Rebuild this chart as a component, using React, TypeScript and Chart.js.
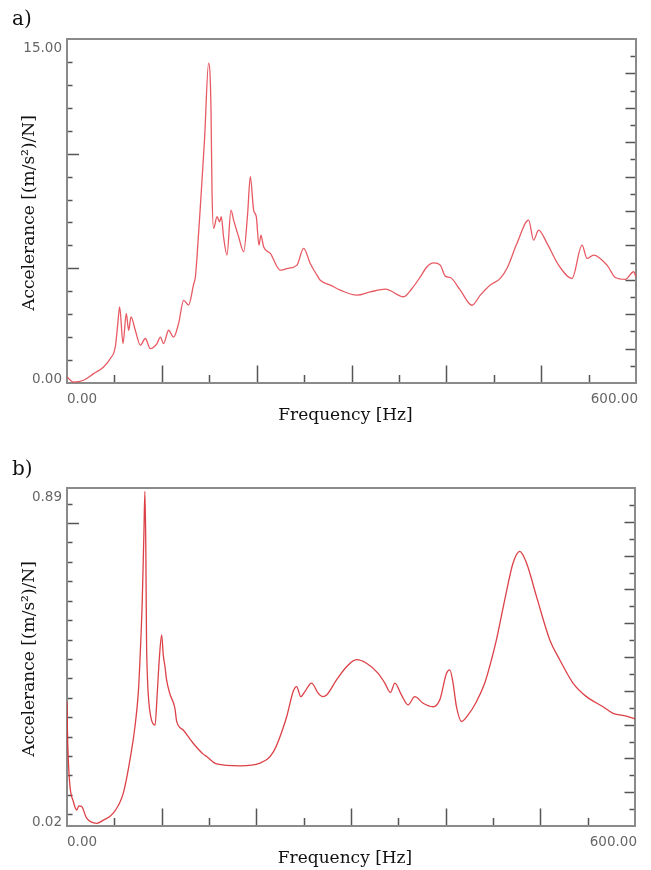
import React, { useEffect, useRef } from "react";
import { Chart, registerables } from "chart.js";

Chart.register(...registerables);

// ---------- Data ----------
const freqA = [
  0, 7.0, 17.5, 28.1, 38.6, 45.7, 50.9, 53.6, 55.5, 59.1, 62.5, 65.0, 67.5, 72.0, 77.3, 82.6, 87.8, 94.9, 98.4,
  101.9, 107.1, 112.4, 117.7, 123.0, 128.2, 133.5, 135.3, 137.1, 140.6, 145.0, 149.3, 151.8, 152.9, 154.6, 158.2,
  160.9, 162.7, 165.1, 168.7, 172.9, 175.7, 181.0, 186.3, 190.5, 193.3, 196.8, 199.6, 202.4, 204.5, 207.3, 214.4,
  224.9, 231.9, 242.5, 249.5, 256.5, 263.6, 267.1, 277.7, 288.2, 305.8, 319.8, 335.7, 355.0, 363.8, 372.6, 379.6,
  386.6, 393.6, 398.9, 404.2, 414.7, 427.1, 435.8, 446.4, 456.9, 464.0, 474.5, 486.8, 492.0, 497.3, 506.2, 518.4,
  532.5, 543.1, 548.4, 555.3, 569.4, 578.2, 588.7, 597.5, 600.0,
];
const accelA = [
  0.26, 0.04, 0.12, 0.41, 0.7, 1.07, 1.57, 2.6, 3.32, 1.72, 3.03, 2.3, 2.88, 2.3, 1.65, 1.94, 1.5, 1.72, 2.0,
  1.72, 2.3, 2.0, 2.6, 3.6, 3.4, 4.3, 4.6, 5.5, 7.69, 10.6, 13.95, 12.05, 8.4, 6.74, 7.25,
  7.03, 7.25, 6.37, 5.58, 7.54, 7.1, 6.37, 5.72, 7.4, 9.0, 7.54, 7.25, 6.01, 6.45, 5.94, 5.65,
  4.92, 4.99, 5.14, 5.87, 5.21, 4.7, 4.48, 4.27, 4.05, 3.83, 3.97, 4.09, 3.76, 4.12, 4.63, 5.07,
  5.24, 5.14, 4.66, 4.6, 4.05, 3.39, 3.83, 4.27, 4.56, 5.0, 6.09, 7.1, 6.23, 6.67, 6.09, 5.14,
  4.56, 6.01, 5.43, 5.58, 5.14, 4.6, 4.52, 4.85, 4.63,
];

const freqB = [
  0, 0.4, 1.4, 3.2, 6.7, 10.2, 12.5, 15.5, 20.8, 31.4, 38.3, 48.9, 59.4, 66.5, 71.8, 75.3, 77.1, 79.5, 81.3, 82.3,
  83.2, 84.0, 85.0, 86.4, 88.2, 90.4, 93.0, 95.3, 97.5, 100.0, 101.7, 103.5, 105.2, 108.7, 114.0, 115.8, 122.8,
  133.3, 143.9, 147.5, 158.0, 182.6, 203.8, 217.8, 231.9, 238.9, 242.5, 247.0, 251.3, 258.3, 265.3, 270.3, 274.2,
  284.7, 295.3, 305.8, 316.4, 328.7, 335.7, 341.7, 346.3, 353.4, 360.3, 367.4, 376.2, 386.7, 393.8, 400.9, 404.4,
  407.8, 411.4, 416.7, 423.7, 432.5, 441.3, 448.4, 453.6, 462.4, 471.2, 478.3, 485.4, 495.9, 510.0, 520.5, 534.5,
  548.7, 566.2, 576.8, 590.9, 600.0,
];
const accelB = [
  0.34, 0.27, 0.19, 0.121, 0.083, 0.061, 0.072, 0.07, 0.04, 0.027, 0.035, 0.053, 0.104, 0.19, 0.276, 0.362, 0.448,
  0.6, 0.78, 0.881, 0.75, 0.5, 0.4, 0.34, 0.305, 0.285, 0.28, 0.36, 0.45, 0.512, 0.46, 0.43, 0.396, 0.36, 0.323,
  0.29, 0.267, 0.233, 0.205, 0.199, 0.18, 0.175, 0.182, 0.21, 0.3, 0.366, 0.379, 0.353, 0.366, 0.388, 0.362, 0.353,
  0.357, 0.396, 0.43, 0.448, 0.439, 0.413, 0.388, 0.364, 0.388, 0.357, 0.332, 0.353, 0.336, 0.327, 0.345, 0.413,
  0.422, 0.388, 0.327, 0.289, 0.306, 0.34, 0.388, 0.448, 0.499, 0.602, 0.697, 0.727, 0.697, 0.611, 0.499, 0.448,
  0.388, 0.353, 0.327, 0.31, 0.303, 0.296,
];

// ---------- Axis ticks / labels ----------
const xMinorTicks = [50, 100, 150, 200, 250, 300, 350, 400, 450, 500, 550];
const xMajorTicks = [100, 200, 300, 400, 500];
const xTickLabels = ["0.00", "600.00"];

const yTicksA = [1, 2, 3, 4, 5, 6, 7, 8, 9, 10, 11, 12, 13, 14];
const yMajorA = [5, 10];
const yLabelsA = ["0.00", "15.00"];

const yTicksB = [0.05, 0.1, 0.15, 0.2, 0.25, 0.3, 0.35, 0.4, 0.45, 0.5, 0.55, 0.6, 0.65, 0.7, 0.75, 0.8, 0.85];
const yMajorB = [0.8];
const yLabelsB = ["0.02", "0.89"];

const rightTicks = [1, 2, 3, 4, 5, 6, 7, 8, 9, 10, 11, 12, 13, 14, 15, 16, 17, 18, 19];

const xTitle = "Frequency [Hz]";
const yTitle = "Accelerance [(m/s\u00B2)/N]";

type PanelCfg = {
  tag: string;
  freq: number[];
  accel: number[];
  yMin: number;
  yMax: number;
  yTicks: number[];
  yMajor: number[];
  yLabels: string[];
  padding: { left: number; top: number; right: number; bottom: number };
  tagBaseline: number;
  color: string;
};

const SERIF = '"DejaVu Serif", serif';
const SANS = '"DejaVu Sans", sans-serif';

function makePlugin(cfg: PanelCfg) {
  return {
    id: "frame" + cfg.tag,
    beforeDatasetsDraw(chart: any) {
      const { ctx, chartArea } = chart;
      const { left, right, top, bottom } = chartArea;
      const xs = chart.scales.x;
      const ys = chart.scales.y;
      const y2 = chart.scales.y2;
      ctx.save();
      ctx.strokeStyle = "#555";
      ctx.lineWidth = 1.5;
      ctx.beginPath();
      xMinorTicks.forEach((v) => {
        const px = Math.round(xs.getPixelForValue(v)) + 0.5;
        const len = xMajorTicks.includes(v) ? 17.5 : 8;
        ctx.moveTo(px, bottom);
        ctx.lineTo(px, bottom - len);
      });
      cfg.yTicks.forEach((v) => {
        const py = Math.round(ys.getPixelForValue(v)) + 0.5;
        const len = cfg.yMajor.includes(v) ? 12 : 5.5;
        ctx.moveTo(left, py);
        ctx.lineTo(left + len, py);
      });
      rightTicks.forEach((v) => {
        const py = Math.round(y2.getPixelForValue(v)) + 0.5;
        const len = v % 2 === 0 ? 10.5 : 5.5;
        ctx.moveTo(right, py);
        ctx.lineTo(right - len, py);
      });
      ctx.stroke();
      ctx.strokeStyle = "#8a8a8a";
      ctx.lineWidth = 2;
      ctx.strokeRect(left, top, right - left, bottom - top);
      ctx.restore();
    },
    afterDraw(chart: any) {
      const { ctx, chartArea } = chart;
      const { left, right, top, bottom } = chartArea;
      ctx.save();
      ctx.fillStyle = "#666";
      ctx.font = "13.5px " + SANS;
      ctx.textBaseline = "middle";
      ctx.textAlign = "right";
      ctx.fillText(cfg.yLabels[1], left - 5, top + 9);
      ctx.fillText(cfg.yLabels[0], left - 5, bottom - 3.5);
      ctx.textAlign = "left";
      ctx.fillText(xTickLabels[0], left, bottom + 16.5);
      ctx.textAlign = "right";
      ctx.fillText(xTickLabels[1], right + 2, bottom + 16.5);
      ctx.fillStyle = "#111";
      ctx.font = "17px " + SERIF;
      ctx.textAlign = "center";
      ctx.textBaseline = "alphabetic";
      ctx.fillText(xTitle, (left + right) / 2 - 6, bottom + 37);
      ctx.save();
      ctx.translate(34, (top + bottom) / 2 + 2);
      ctx.rotate(-Math.PI / 2);
      ctx.fillText(yTitle, 0, 0);
      ctx.restore();
      ctx.font = "20px " + SERIF;
      ctx.textAlign = "left";
      ctx.fillText(cfg.tag, 12, cfg.tagBaseline);
      ctx.restore();
    },
  };
}

function Panel({ cfg, top }: { cfg: PanelCfg; top: number }) {
  const ref = useRef<HTMLCanvasElement | null>(null);
  useEffect(() => {
    if (!ref.current) return;
    const chart = new Chart(ref.current, {
      type: "line",
      data: {
        datasets: [
          {
            data: cfg.freq.map((f, i) => ({ x: f, y: cfg.accel[i] })),
            borderColor: cfg.color,
            borderWidth: 1.3,
            pointRadius: 0,
            fill: false,
            cubicInterpolationMode: "monotone",
          },
        ],
      },
      options: {
        responsive: false,
        maintainAspectRatio: false,
        animation: false,
        layout: { padding: cfg.padding },
        plugins: { legend: { display: false }, tooltip: { enabled: false } },
        scales: {
          x: { type: "linear", min: 0, max: 600, display: false },
          y: { type: "linear", min: cfg.yMin, max: cfg.yMax, display: false },
          y2: { type: "linear", position: "right", min: 0, max: 20, display: false },
        },
      } as any,
      plugins: [makePlugin(cfg)],
    });
    return () => chart.destroy();
  }, [cfg]);
  return (
    <canvas
      ref={ref}
      width={651}
      height={435}
      style={{ position: "absolute", left: 0, top, width: 651, height: 435 }}
    />
  );
}

const cfgA: PanelCfg = {
  tag: "a)",
  freq: freqA,
  accel: accelA,
  yMin: 0,
  yMax: 15,
  yTicks: yTicksA,
  yMajor: yMajorA,
  yLabels: yLabelsA,
  padding: { left: 67, top: 39, right: 15, bottom: 52 },
  tagBaseline: 25,
  color: "rgba(228, 72, 82, 0.9)",
};

const cfgB: PanelCfg = {
  tag: "b)",
  freq: freqB,
  accel: accelB,
  yMin: 0.02,
  yMax: 0.89,
  yTicks: yTicksB,
  yMajor: yMajorB,
  yLabels: yLabelsB,
  padding: { left: 67, top: 53, right: 16, bottom: 44 },
  tagBaseline: 40,
  color: "rgba(216, 44, 52, 0.9)",
};

export default function App() {
  return (
    <div style={{ position: "fixed", left: 0, top: 0, width: 651, height: 870, background: "#fff" }}>
      <Panel cfg={cfgA} top={0} />
      <Panel cfg={cfgB} top={435} />
    </div>
  );
}
